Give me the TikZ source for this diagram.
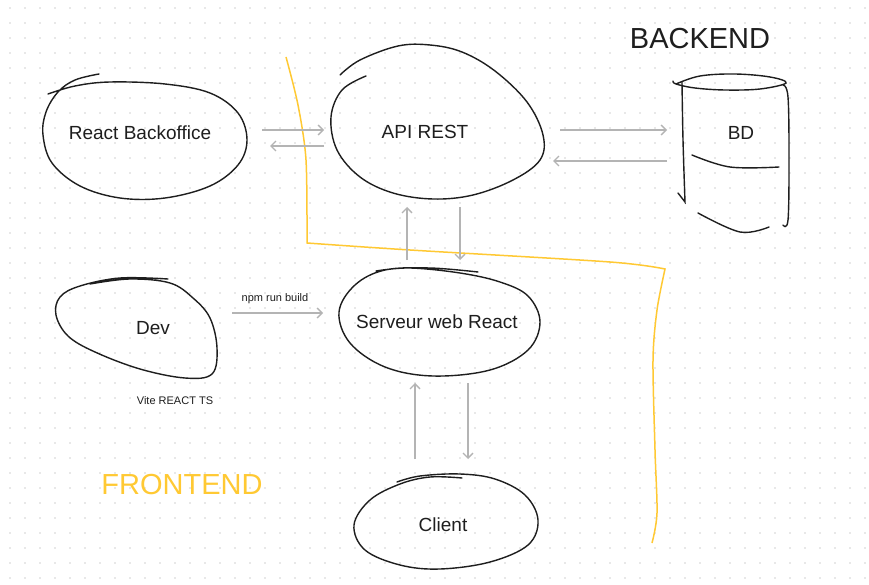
\documentclass[tikz,border=0pt]{standalone}
\usepackage{fontspec}
\setmainfont{Liberation Sans}
\usetikzlibrary{arrows.meta}
\definecolor{ink}{HTML}{1E1E1E}
\definecolor{sketchyellow}{HTML}{FFC933}
\definecolor{wiregray}{HTML}{B4B4B4}
\definecolor{griddot}{HTML}{D2D2D2}

\begin{document}
\begin{tikzpicture}[x=1pt, y=-1pt]
  \tikzset{
    blob/.style={draw=ink, line width=1.4pt, smooth, tension=0.6, line cap=round},
    lbl/.style={text=ink, font=\fontsize{19}{23}\selectfont, inner sep=0pt},
    smalllbl/.style={text=ink, font=\fontsize{11}{13}\selectfont, inner sep=0pt},
    zonetitle/.style={font=\fontsize{29}{34}\selectfont, inner sep=0pt},
    wire/.style={draw=wiregray, line width=1.3pt, -{Straight Barb[length=5pt, width=10pt]}},
    border/.style={draw=sketchyellow, line width=1.5pt, smooth, tension=0.5, line join=miter},
  }

  \fill[white] (0,0) rectangle (869,585);
  \useasboundingbox (0,0) rectangle (869,585);
  \foreach \gx in {10,25,...,865}
    \foreach \gy in {8,23,...,580}
      \fill[griddot] (\gx,\gy) circle (0.8);

  % frontend / backend border
  \draw[border] plot coordinates {(286,57) (298,105) (306,160) (307,243)}
    -- plot coordinates {(307,243) (410,250) (610,262) (665,269)}
    -- plot coordinates {(665,269) (657,310) (653,360) (655,450) (657,513) (652,543)};

  % sketched shapes
  \draw[blob] plot coordinates {(99,74) (75,80) (58,92) (46,112) (43,135) (52,163) (80,186) (120,198)
    (165,198) (210,186) (238,165) (247,140) (238,113) (210,93) (165,84) (110,82) (75,86) (48,94)};
  \draw[blob] plot coordinates {(340,75) (360,60) (398,46) (430,45) (462,52) (495,71) (527,102)
    (543,135) (540,160) (513,180) (473,195) (433,199) (393,193) (360,177) (337,150) (331,117)
    (342,90) (366,76)};
  \draw[blob] plot coordinates {(478,272) (430,268) (385,270) (355,285) (339,312) (350,343) (385,367)
    (433,376) (490,370) (528,350) (540,322) (528,296) (500,282) (460,273) (410,268) (376,271)};
  \draw[blob] plot coordinates {(168,279) (120,278) (80,286) (60,297) (56,315) (68,336) (95,352)
    (140,369) (185,378) (212,374) (217,348) (210,318) (193,298) (170,283) (130,279) (90,284)};
  \draw[blob] plot coordinates {(462,478) (430,477) (400,484) (370,500) (354,525) (365,550) (400,565)
    (440,569) (490,562) (528,545) (538,520) (525,495) (495,479) (460,474) (420,476) (397,482)};

  % database cylinder
  \draw[blob] plot coordinates {(676,84) (700,76) (735,74) (770,77) (786,83) (760,89) (725,90)
    (695,88) (676,84) (673,81)};
  \draw[blob] plot coordinates {(682,82) (683,140) (685,202)} -- (678,193);
  \draw[blob] plot coordinates {(783,85) (788,97) (789,160) (788,220) (783,225)};
  \draw[blob] plot coordinates {(692,155) (730,167) (779,167)};
  \draw[blob] plot coordinates {(698,213) (740,232) (769,227)};

  % labels
  \node[lbl] (backoffice) at (140,133) {React Backoffice};
  \node[lbl] (api) at (425,132) {API REST};
  \node[lbl] (bd) at (741,133) {BD};
  \node[lbl] (serveur) at (437,322) {Serveur web React};
  \node[lbl] (dev) at (153,328) {Dev};
  \node[lbl] (client) at (443,525) {Client};
  \node[smalllbl] (npm) at (275,299) {npm run build};
  \node[smalllbl] (vite) at (175,401) {Vite REACT TS};
  \node[zonetitle, text=ink] (backend) at (700,39) {BACKEND};
  \node[zonetitle, text=sketchyellow] (frontend) at (182,485) {FRONTEND};

  % connector ends
  \coordinate (boR1) at (262,130);
  \coordinate (apiL1) at (324,130);
  \coordinate (boR2) at (270,146);
  \coordinate (apiL2) at (324,146);
  \coordinate (apiR1) at (560,130);
  \coordinate (bdL1) at (667,130);
  \coordinate (apiR2) at (553,161);
  \coordinate (bdL2) at (667,161);
  \coordinate (apiB1) at (407,207);
  \coordinate (srvT1) at (407,260);
  \coordinate (apiB2) at (460,207);
  \coordinate (srvT2) at (460,260);
  \coordinate (devR) at (232,313);
  \coordinate (srvL) at (323,313);
  \coordinate (srvB1) at (415,383);
  \coordinate (cliT1) at (415,459);
  \coordinate (srvB2) at (468,383);
  \coordinate (cliT2) at (468,459);

  \draw[wire] (boR1) -- (apiL1);
  \draw[wire] (apiL2) -- (boR2);
  \draw[wire] (apiR1) -- (bdL1);
  \draw[wire] (bdL2) -- (apiR2);
  \draw[wire] (srvT1) -- (apiB1);
  \draw[wire] (apiB2) -- (srvT2);
  \draw[wire] (devR) -- (srvL);
  \draw[wire] (cliT1) -- (srvB1);
  \draw[wire] (srvB2) -- (cliT2);
\end{tikzpicture}
\end{document}
